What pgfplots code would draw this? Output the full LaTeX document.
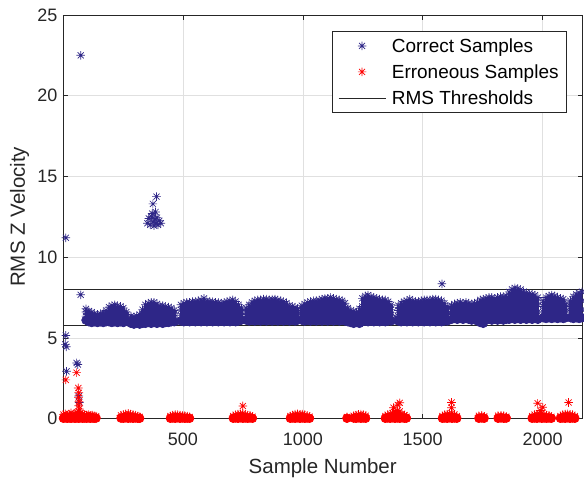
\documentclass[border=0pt]{standalone}
\usepackage{pgfplots}
\pgfplotsset{compat=1.18}
\usepackage{pgfplotstable}
\usepackage{fontspec}
\setmainfont{Liberation Sans}

\definecolor{corr}{RGB}{46,38,135}
\definecolor{err}{RGB}{255,0,0}
\definecolor{axgray}{RGB}{38,38,38}

% MATLAB style '*' marker: eight arms
\pgfdeclareplotmark{mast}{%
  \pgfpathmoveto{\pgfqpoint{-\pgfplotmarksize}{0pt}}%
  \pgfpathlineto{\pgfqpoint{\pgfplotmarksize}{0pt}}%
  \pgfpathmoveto{\pgfqpoint{0pt}{-\pgfplotmarksize}}%
  \pgfpathlineto{\pgfqpoint{0pt}{\pgfplotmarksize}}%
  \pgfpathmoveto{\pgfqpoint{-0.707\pgfplotmarksize}{-0.707\pgfplotmarksize}}%
  \pgfpathlineto{\pgfqpoint{0.707\pgfplotmarksize}{0.707\pgfplotmarksize}}%
  \pgfpathmoveto{\pgfqpoint{-0.707\pgfplotmarksize}{0.707\pgfplotmarksize}}%
  \pgfpathlineto{\pgfqpoint{0.707\pgfplotmarksize}{-0.707\pgfplotmarksize}}%
  \pgfusepathqstroke}

% correct samples, main band: x and four levels through the cloud
\pgfplotstableread{
x a b c d
96 6.10 6.35 6.60 6.80
108 6.00 6.25 6.45 6.65
120 5.95 6.20 6.40 6.60
132 6.00 6.20 6.35 6.50
144 5.95 6.15 6.30 6.45
156 6.00 6.15 6.35 6.50
168 5.95 6.20 6.40 6.55
180 6.00 6.25 6.45 6.70
192 6.00 6.30 6.60 6.90
204 5.95 6.30 6.65 7.00
216 6.00 6.35 6.70 7.05
228 5.95 6.30 6.65 7.00
240 6.00 6.30 6.60 6.95
252 5.95 6.25 6.55 6.85
264 6.05 6.25 6.45 6.60
284 5.90 6.05 6.20 6.35
296 5.85 6.00 6.15 6.30
308 5.90 6.05 6.20 6.35
320 5.85 6.05 6.25 6.45
332 5.90 6.15 6.45 6.75
344 5.90 6.25 6.65 7.05
356 5.95 6.30 6.70 7.15
368 5.90 6.30 6.75 7.20
380 5.95 6.35 6.75 7.20
392 5.90 6.30 6.70 7.10
404 5.95 6.30 6.65 7.00
416 5.90 6.30 6.65 7.00
428 5.95 6.30 6.60 6.95
440 5.95 6.25 6.60 6.90
452 6.00 6.30 6.55 6.85
464 6.00 6.25 6.50 6.70
492 6.05 6.40 6.75 7.05
504 6.00 6.40 6.80 7.15
516 6.05 6.45 6.85 7.20
528 6.00 6.40 6.80 7.20
540 6.05 6.45 6.85 7.25
552 6.00 6.45 6.85 7.25
564 6.05 6.45 6.90 7.30
576 6.00 6.45 6.90 7.35
588 6.05 6.50 6.95 7.45
600 6.00 6.45 6.90 7.30
612 6.05 6.45 6.85 7.25
624 6.00 6.40 6.85 7.25
636 6.05 6.45 6.85 7.20
648 6.00 6.40 6.80 7.20
660 6.05 6.40 6.80 7.15
672 6.00 6.40 6.80 7.20
684 6.05 6.45 6.85 7.25
696 6.00 6.45 6.85 7.30
708 6.05 6.45 6.90 7.35
720 6.00 6.40 6.80 7.25
732 6.05 6.40 6.75 7.05
744 6.10 6.35 6.60 6.85
764 6.10 6.35 6.60 6.85
776 6.05 6.40 6.75 7.05
788 6.10 6.45 6.85 7.20
800 6.05 6.45 6.85 7.30
812 6.10 6.50 6.90 7.35
824 6.05 6.45 6.90 7.35
836 6.10 6.50 6.95 7.40
848 6.05 6.50 6.95 7.40
860 6.10 6.50 6.90 7.35
872 6.05 6.45 6.90 7.40
884 6.10 6.50 6.95 7.40
896 6.05 6.50 6.90 7.35
908 6.10 6.45 6.85 7.30
920 6.05 6.45 6.85 7.25
932 6.10 6.45 6.80 7.15
944 6.05 6.40 6.70 7.00
956 6.10 6.40 6.70 6.95
968 6.05 6.35 6.65 6.90
978 6.10 6.35 6.60 6.80
996 6.10 6.40 6.70 7.00
1008 6.05 6.40 6.75 7.10
1020 6.10 6.45 6.85 7.20
1032 6.05 6.45 6.85 7.25
1044 6.10 6.50 6.90 7.30
1056 6.05 6.50 6.90 7.30
1068 6.10 6.50 6.95 7.35
1080 6.05 6.50 6.95 7.40
1092 6.10 6.55 7.00 7.45
1104 6.05 6.50 7.00 7.45
1116 6.10 6.55 7.00 7.50
1128 6.05 6.50 6.95 7.45
1140 6.10 6.50 6.95 7.40
1152 6.05 6.50 6.90 7.35
1164 6.10 6.45 6.85 7.30
1176 6.05 6.40 6.80 7.15
1188 6.00 6.25 6.55 6.85
1200 5.95 6.20 6.45 6.70
1212 5.90 6.15 6.40 6.65
1224 5.95 6.20 6.40 6.60
1236 5.90 6.20 6.50 6.80
1248 6.00 6.45 6.95 7.45
1260 6.05 6.55 7.05 7.60
1272 6.00 6.55 7.10 7.65
1284 6.05 6.55 7.05 7.55
1296 6.00 6.50 7.00 7.50
1308 6.05 6.50 7.00 7.45
1320 6.00 6.50 6.95 7.40
1332 6.05 6.50 6.95 7.35
1344 6.00 6.45 6.90 7.35
1356 6.05 6.45 6.85 7.25
1368 6.05 6.40 6.75 7.05
1398 6.05 6.35 6.70 7.00
1410 6.00 6.40 6.80 7.15
1422 6.05 6.45 6.85 7.25
1434 6.00 6.45 6.90 7.30
1446 6.05 6.50 6.95 7.40
1458 6.00 6.45 6.90 7.30
1470 6.05 6.45 6.85 7.25
1482 6.00 6.45 6.85 7.25
1494 6.05 6.45 6.90 7.30
1506 6.00 6.45 6.90 7.35
1518 6.05 6.50 6.90 7.35
1530 6.00 6.45 6.90 7.35
1542 6.05 6.50 6.95 7.40
1554 6.00 6.50 6.95 7.40
1566 6.05 6.50 6.95 7.35
1578 6.00 6.45 6.90 7.30
1590 6.05 6.40 6.80 7.15
1602 6.05 6.35 6.65 6.95
1620 6.15 6.45 6.75 7.00
1632 6.20 6.50 6.80 7.10
1644 6.15 6.50 6.85 7.15
1656 6.20 6.50 6.85 7.20
1668 6.15 6.50 6.85 7.15
1680 6.20 6.50 6.85 7.20
1692 6.15 6.45 6.80 7.15
1704 6.10 6.45 6.80 7.10
1716 6.15 6.45 6.80 7.15
1728 6.05 6.45 6.85 7.20
1740 5.95 6.40 6.90 7.35
1752 5.90 6.40 6.90 7.40
1764 6.10 6.50 6.95 7.45
1776 6.15 6.55 7.00 7.50
1788 6.10 6.55 7.00 7.50
1800 6.15 6.55 7.00 7.45
1812 6.10 6.55 7.05 7.50
1824 6.15 6.60 7.05 7.55
1836 6.10 6.55 7.05 7.55
1848 6.15 6.60 7.10 7.60
1860 6.15 6.70 7.25 7.85
1872 6.20 6.75 7.35 8.00
1884 6.15 6.75 7.40 8.10
1896 6.20 6.80 7.40 8.05
1908 6.15 6.75 7.35 8.00
1920 6.20 6.75 7.30 7.85
1932 6.15 6.70 7.25 7.80
1944 6.20 6.70 7.20 7.75
1956 6.15 6.65 7.20 7.70
1968 6.20 6.65 7.15 7.65
1980 6.15 6.60 7.05 7.50
2002 6.25 6.60 6.95 7.30
2014 6.20 6.65 7.10 7.50
2026 6.25 6.70 7.15 7.60
2038 6.20 6.70 7.20 7.65
2050 6.25 6.70 7.15 7.60
2062 6.20 6.65 7.10 7.50
2074 6.25 6.65 7.05 7.45
2086 6.20 6.60 7.00 7.40
2096 6.25 6.55 6.85 7.10
2116 6.25 6.60 6.95 7.30
2128 6.20 6.65 7.10 7.55
2140 6.25 6.70 7.20 7.70
2152 6.20 6.70 7.25 7.80
2164 6.25 6.75 7.30 7.85
}\band

% correct samples away from the band
\pgfplotstableread{
x y
12 11.2
74 22.5
74 7.67
12 5.15
10 4.6
14 4.45
15 2.93
57 3.45
62 3.35
66 1.4
68 1.0
352 12.1
358 12.4
364 12.0
370 12.5
376 12.2
380 11.95
384 12.35
388 12.1
392 12.45
396 12.0
402 12.25
408 12.1
372 12.7
386 12.8
375 13.3
390 13.75
1384 6.1
1388 6.3
1580 8.35
}\bandout

% erroneous samples: x and three levels near zero
\pgfplotstableread{
x a b c
2 0.02 0.12 0.25
10 0.05 0.15 0.30
18 0.02 0.10 0.22
26 0.04 0.14 0.28
34 0.02 0.12 0.35
42 0.05 0.15 0.26
50 0.02 0.12 0.30
58 0.04 0.16 0.40
66 0.02 0.14 0.45
74 0.05 0.18 0.35
82 0.02 0.12 0.28
90 0.04 0.14 0.24
98 0.02 0.10 0.22
106 0.05 0.13 0.25
114 0.02 0.11 0.20
122 0.04 0.12 0.22
130 0.02 0.10 0.18
138 0.03 0.08 0.15
242 0.03 0.10 0.20
252 0.02 0.12 0.26
262 0.05 0.15 0.30
272 0.02 0.12 0.32
282 0.04 0.14 0.28
292 0.02 0.12 0.25
302 0.04 0.10 0.22
312 0.02 0.08 0.16
320 0.02 0.05 0.10
448 0.02 0.08 0.16
458 0.04 0.12 0.22
468 0.02 0.14 0.25
478 0.05 0.12 0.24
488 0.02 0.10 0.22
498 0.04 0.12 0.20
508 0.02 0.10 0.18
518 0.03 0.08 0.15
528 0.02 0.05 0.10
710 0.02 0.08 0.16
720 0.04 0.12 0.24
730 0.02 0.14 0.28
740 0.05 0.15 0.30
750 0.02 0.14 0.32
760 0.04 0.12 0.26
770 0.02 0.12 0.22
780 0.04 0.10 0.20
790 0.02 0.06 0.12
948 0.02 0.08 0.16
958 0.04 0.12 0.22
968 0.02 0.14 0.28
978 0.05 0.15 0.30
988 0.02 0.14 0.26
998 0.04 0.12 0.28
1008 0.02 0.12 0.24
1018 0.04 0.10 0.20
1028 0.02 0.06 0.12
1184 0.02 0.06 0.10
1212 0.03 0.10 0.18
1222 0.02 0.12 0.22
1232 0.05 0.15 0.26
1242 0.02 0.14 0.28
1252 0.04 0.12 0.24
1262 0.02 0.10 0.18
1344 0.02 0.08 0.16
1354 0.04 0.12 0.24
1364 0.02 0.14 0.30
1374 0.05 0.16 0.34
1384 0.02 0.15 0.40
1394 0.04 0.18 0.50
1404 0.02 0.16 0.45
1414 0.05 0.14 0.30
1424 0.02 0.10 0.22
1432 0.03 0.06 0.12
1582 0.02 0.08 0.16
1592 0.04 0.12 0.24
1602 0.02 0.14 0.28
1612 0.05 0.15 0.30
1622 0.02 0.14 0.32
1632 0.04 0.12 0.26
1642 0.02 0.08 0.16
1734 0.02 0.10 0.18
1746 0.04 0.12 0.20
1756 0.02 0.08 0.14
1814 0.02 0.10 0.18
1826 0.04 0.12 0.20
1838 0.02 0.10 0.18
1848 0.03 0.06 0.12
1956 0.02 0.08 0.16
1966 0.04 0.12 0.24
1976 0.02 0.14 0.28
1986 0.05 0.15 0.30
1996 0.02 0.14 0.32
2006 0.04 0.12 0.26
2016 0.02 0.10 0.22
2026 0.04 0.10 0.20
2036 0.02 0.06 0.12
2074 0.02 0.08 0.16
2084 0.04 0.12 0.24
2094 0.02 0.14 0.28
2104 0.05 0.15 0.30
2114 0.02 0.14 0.26
2124 0.04 0.12 0.24
2134 0.02 0.08 0.16
}\err

\pgfplotstableread{
x y
12 2.4
57 2.85
64 1.9
66 1.6
65 1.3
67 1.05
66 0.8
68 0.6
750 0.78
1378 0.68
1396 0.85
1404 0.98
1620 1.0
1620 0.68
1979 0.95
1990 0.5
2000 0.7
2108 1.0
}\errout

\begin{document}
\begin{tikzpicture}
\begin{axis}[
    width=520pt, height=404pt, scale only axis,
    xmin=0, xmax=2166, ymin=0, ymax=25,
    xtick={500,1000,1500,2000}, ytick={0,5,...,25},
    /pgf/number format/1000 sep={},
    /pgf/number format/assume math mode=true,
    tick label style={font=\fontsize{18}{20}\selectfont, text=axgray},
    xticklabel style={anchor=base, yshift=-27pt},
    yticklabel style={xshift=-2pt},
    grid=major,
    major grid style={black!12, line width=0.5pt},
    axis line style={axgray, line width=0.6pt},
    tick align=inside,
    major tick length=5pt,
    tick style={axgray, line width=0.6pt},
    label style={font=\fontsize{20.5}{24}\selectfont, text=axgray},
    xlabel={Sample Number},
    ylabel={RMS Z Velocity},
    xlabel style={at={(axis description cs:0.5,-0.1361)}, anchor=base},
    ylabel style={at={(axis description cs:-0.0731,0.5)}, anchor=base},
    legend image code/.code={\draw[mark repeat=2,mark phase=2,#1] plot coordinates {(0pt,0pt) (23.5pt,0pt) (47pt,0pt)};},
    legend cell align=left,
    legend style={at={(0.969,0.960)}, anchor=north east,
        draw=axgray, line width=0.6pt, fill=white,
        font=\fontsize{19}{22}\selectfont,
        inner xsep=5.5pt, inner ysep=4pt, row sep=5pt, column sep=4pt,
        nodes={inner sep=2pt, text height=15pt, text depth=2pt}},
    every axis plot/.append style={line width=0.7pt},
    mark size=4.3pt,
]
% dense core of the correct-sample cloud, from lowest to highest level
\addplot[corr, only marks, mark=none, forget plot,
    error bars/.cd, y dir=plus, y explicit,
    error mark=none, error bar style={line width=2.9pt, corr}]
    table[x=x, y=a, y error expr=\thisrow{d}-\thisrow{a}]{\band};
\addplot[only marks, mark=mast, corr] table[x=x, y=a]{\band};
\addlegendentry{Correct Samples}
\addplot[only marks, mark=mast, corr, forget plot] table[x=x, y=b]{\band};
\addplot[only marks, mark=mast, corr, forget plot] table[x=x, y=c]{\band};
\addplot[only marks, mark=mast, corr, forget plot] table[x=x, y=d]{\band};
\addplot[only marks, mark=mast, corr, forget plot] table[x=x, y=y]{\bandout};

\addplot[err, only marks, mark=none, forget plot,
    error bars/.cd, y dir=plus, y explicit,
    error mark=none, error bar style={line width=2.6pt, err}]
    table[x=x, y=a, y error expr=\thisrow{c}-\thisrow{a}]{\err};
\addplot[only marks, mark=mast, err] table[x=x, y=a]{\err};
\addlegendentry{Erroneous Samples}
\addplot[only marks, mark=mast, err, forget plot] table[x=x, y=b]{\err};
\addplot[only marks, mark=mast, err, forget plot] table[x=x, y=c]{\err};
\addplot[only marks, mark=mast, err, forget plot] table[x=x, y=y]{\errout};

\addplot[axgray, line width=0.7pt, mark=none] coordinates {(0,8.03) (2166,8.03)};
\addlegendentry{RMS Thresholds}
\addplot[axgray, line width=0.7pt, mark=none, forget plot] coordinates {(0,5.75) (2166,5.75)};
\end{axis}
\pgfresetboundingbox
\useasboundingbox (-63pt,-60pt) rectangle (521.5pt,419pt);
\end{tikzpicture}
\end{document}
